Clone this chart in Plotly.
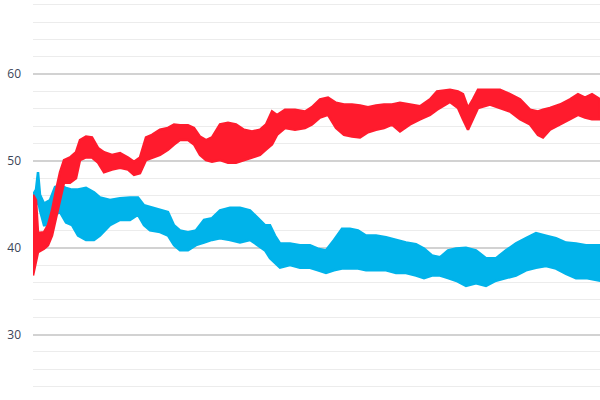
import plotly.graph_objects as go

# day index for each sample
red_x = [0, 3, 5, 11, 15, 19, 23, 27, 31, 37, 43, 47, 53, 59, 65, 71, 79, 87, 95, 101,
         107, 113, 119, 127, 135, 141, 147, 155, 161, 167, 173, 179, 187, 195, 203, 211,
         219, 227, 233, 239, 244, 252, 262, 272, 279, 287, 295, 303, 311, 319, 327, 335,
         343, 351, 359, 367, 377, 387, 397, 404, 417, 425, 430, 435, 440, 445, 457, 467,
         477, 487, 497, 505, 510, 517, 527, 537, 545, 552, 559, 567]
red_hi = [46.1, 45.5, 41.7, 41.8, 42.6, 44.3, 46.6, 48.7, 50.1, 50.4, 51.0, 52.4, 52.8, 52.7,
          51.5, 51.0, 50.7, 50.9, 50.4, 49.9, 50.4, 52.7, 53.0, 53.6, 53.8, 54.2, 54.1, 54.1,
          53.8, 52.8, 52.4, 52.7, 54.2, 54.4, 54.2, 53.6, 53.4, 53.6, 54.2, 55.7, 55.3, 55.9,
          55.9, 55.7, 56.2, 57.1, 57.3, 56.7, 56.5, 56.5, 56.4, 56.2, 56.4, 56.5, 56.5, 56.7,
          56.5, 56.3, 57.1, 58.0, 58.2, 58.0, 57.7, 56.1, 57.1, 58.2, 58.2, 58.2, 57.7, 57.1,
          55.9, 55.7, 55.9, 56.1, 56.5, 57.1, 57.7, 57.3, 57.7, 57.1]
red_lo = [36.8, 38.5, 39.5, 39.9, 40.3, 41.4, 43.2, 45.5, 47.5, 47.5, 48.0, 50.1, 50.4, 50.4,
          49.8, 48.7, 49.0, 49.2, 49.0, 48.4, 48.6, 50.1, 50.4, 50.7, 51.3, 51.9, 52.4, 52.4,
          51.9, 50.7, 50.1, 49.9, 50.1, 49.8, 49.8, 50.1, 50.4, 50.7, 51.3, 51.9, 53.0, 53.8,
          53.6, 53.8, 54.2, 55.0, 55.3, 53.8, 53.0, 52.8, 52.7, 53.3, 53.6, 53.8, 54.2, 53.4,
          54.2, 54.8, 55.3, 55.9, 56.8, 56.1, 54.8, 53.6, 54.8, 56.1, 56.5, 56.1, 55.7, 54.8,
          54.2, 53.0, 52.7, 53.6, 54.2, 54.8, 55.3, 55.0, 54.8, 54.8]

blue_x = [0, 3, 5, 7, 11, 17, 22, 27, 33, 39, 45, 53, 61, 67, 77, 87, 97, 105, 111, 117,
          127, 135, 141, 147, 155, 163, 171, 179, 187, 197, 207, 217, 225, 232, 237, 242,
          247, 257, 267, 277, 285, 293, 301, 309, 317, 325, 333, 343, 353, 363, 373, 383,
          391, 399, 407, 415, 423, 433, 443, 453, 463, 473, 483, 493, 503, 513, 523, 533,
          543, 553, 567]
blue_hi = [46.1, 46.7, 48.7, 46.1, 45.1, 45.5, 47.0, 47.2, 46.9, 46.7, 46.7, 46.9, 46.4, 45.8,
           45.5, 45.7, 45.8, 45.8, 44.9, 44.7, 44.3, 44.1, 42.6, 42.0, 41.8, 42.0, 43.2, 43.4,
           44.3, 44.6, 44.6, 44.3, 43.4, 42.6, 42.6, 41.4, 40.5, 40.5, 40.3, 40.3, 39.9, 39.7,
           40.9, 42.2, 42.2, 42.0, 41.4, 41.4, 41.2, 40.9, 40.6, 40.4, 39.9, 39.1, 38.9, 39.7,
           39.9, 40.0, 39.7, 38.8, 38.8, 39.7, 40.5, 41.1, 41.7, 41.4, 41.1, 40.6, 40.5, 40.3,
           40.3]
blue_lo = [44.3, 44.9, 45.5, 44.3, 42.6, 42.6, 43.8, 44.1, 42.9, 42.6, 41.4, 40.9, 40.9, 41.4,
           42.6, 43.2, 43.2, 43.8, 42.6, 42.0, 41.8, 41.4, 40.3, 39.7, 39.7, 40.3, 40.6, 40.9,
           41.1, 40.9, 40.6, 40.9, 40.3, 39.7, 38.8, 38.3, 37.7, 38.0, 37.7, 37.7, 37.4, 37.1,
           37.4, 37.6, 37.6, 37.6, 37.4, 37.4, 37.4, 37.1, 37.1, 36.8, 36.5, 36.8, 36.8, 36.5,
           36.2, 35.6, 35.9, 35.6, 36.2, 36.5, 36.8, 37.4, 37.7, 37.9, 37.6, 37.0, 36.5, 36.5,
           36.2]

y_ticks = [30, 40, 50, 60]
y_tick_labels = ["30", "40", "50", "60"]

RED = "#FF1B2D"
BLUE = "#00B3EA"


def band(xs, hi, lo, color):
    return go.Scatter(
        x=xs + xs[::-1],
        y=hi + lo[::-1],
        fill="toself",
        fillcolor=color,
        mode="lines",
        line=dict(color=color, width=2.5),
        hoverinfo="skip",
        showlegend=False,
    )


fig = go.Figure()
fig.add_trace(band(blue_x, blue_hi, blue_lo, BLUE))
fig.add_trace(band(red_x, red_hi, red_lo, RED))

fig.update_layout(
    width=600,
    height=400,
    margin=dict(l=33, r=0, t=0, b=0),
    paper_bgcolor="white",
    plot_bgcolor="white",
    showlegend=False,
    xaxis=dict(range=[0, 567], visible=False, showgrid=False, zeroline=False),
    yaxis=dict(
        range=[22.46, 68.54],
        tickvals=y_ticks,
        ticktext=y_tick_labels,
        showgrid=True,
        gridcolor="#d2d2d2",
        gridwidth=1.5,
        zeroline=False,
        showline=False,
        ticks="",
        ticklabelstandoff=11,
        tickfont=dict(family="Open Sans", size=12, color="#3b4658"),
        minor=dict(dtick=2, tick0=0, showgrid=True, gridcolor="#ececec", gridwidth=1),
    ),
)

fig.write_html(
    "out.html",
    config={"displayModeBar": False},
    post_script="document.body.style.margin='0';",
)
